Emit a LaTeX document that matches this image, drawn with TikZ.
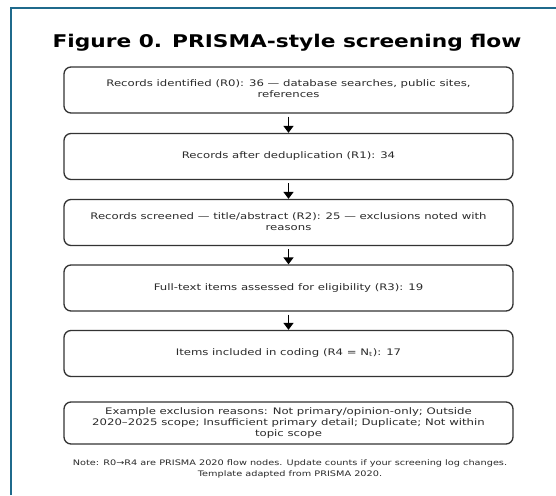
\documentclass[tikz,border=0pt]{standalone}
\usepackage{fontspec}
\setmainfont{DejaVu Sans}
\usetikzlibrary{arrows.meta}
\definecolor{frameblue}{HTML}{1F6A8C}
\definecolor{boxline}{HTML}{333333}
\definecolor{txt}{HTML}{2A2A2A}
\newcommand\bxt[1]{\scalebox{1.3}[1]{\begin{tabular}{@{}c@{}}#1\end{tabular}}}
\newcommand\ntt[1]{\scalebox{1.28}[1]{\begin{tabular}{@{}c@{}}#1\end{tabular}}}
\tikzset{
  stepbox/.style={draw=boxline, line width=1.3pt, rounded corners=7pt, fill=white,
    minimum width=449pt, minimum height=46pt, align=center, text=txt,
    font=\fontsize{9pt}{11pt}\selectfont, inner sep=0pt},
  flowarrow/.style={-{Triangle[length=7pt,width=10pt]}, line width=1.6pt, black, shorten <=3pt},
}
\begin{document}
\begin{tikzpicture}[x=1pt,y=-1pt]
\useasboundingbox (0,0) rectangle (556,495);
\fill[white] (0,0) rectangle (556,495);
\draw[frameblue, line width=2pt] (11,495) -- (11,8) -- (556,8);
\node[font=\bfseries\fontsize{17.5pt}{20pt}\selectfont, text=black] (title) at (287,43) {\scalebox{1.24}[1]{Figure 0. PRISMA-style screening flow}};
\node[stepbox] (r0) at (288.5,90) {\bxt{Records identified (R0): 36 — database searches, public sites,\\references}};
\node[stepbox] (r1) at (288.5,156.5) {\bxt{Records after deduplication (R1): 34}};
\node[stepbox] (r2) at (288.5,222.5) {\bxt{Records screened — title/abstract (R2): 25 — exclusions noted with\\reasons}};
\node[stepbox] (r3) at (288.5,288) {\bxt{Full-text items assessed for eligibility (R3): 19}};
\node[stepbox] (r4) at (288.5,353.5) {\bxt{Items included in coding (R4 = N\textsubscript{t}): 17}};
\node[stepbox, minimum height=42pt] (ex) at (288.5,423) {\bxt{Example exclusion reasons: Not primary/opinion-only; Outside\\2020–2025 scope; Insufficient primary detail; Duplicate; Not within\\topic scope}};
\node[align=center, text=txt, font=\fontsize{7.6pt}{11pt}\selectfont, inner sep=0pt] (note) at (290,468.5) {\ntt{Note: R0→R4 are PRISMA 2020 flow nodes. Update counts if your screening log changes.\\Template adapted from PRISMA 2020.}};
\draw[flowarrow] (r0) -- (r1);
\draw[flowarrow] (r1) -- (r2);
\draw[flowarrow] (r2) -- (r3);
\draw[flowarrow] (r3) -- (r4);
\end{tikzpicture}
\end{document}
